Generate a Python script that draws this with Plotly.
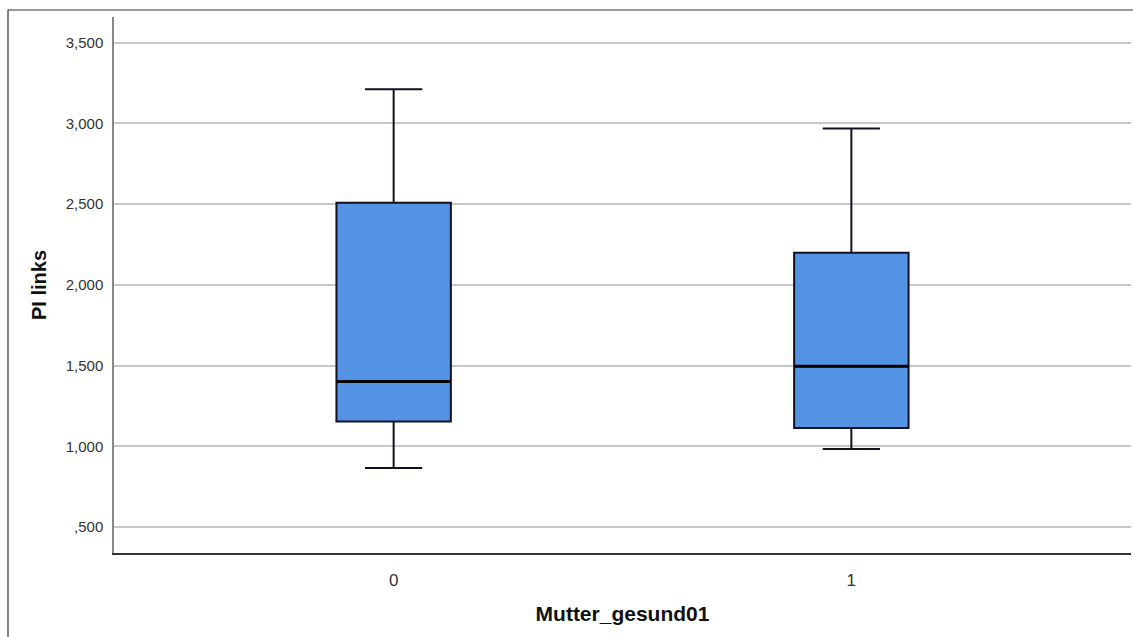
import plotly.graph_objects as go

groups = [0, 1]
group_labels = ["0", "1"]
lower_fence = [0.866, 0.983]
q1 = [1.153, 1.114]
median = [1.401, 1.496]
q3 = [2.508, 2.198]
upper_fence = [3.211, 2.969]

ytick_vals = [0.5, 1.0, 1.5, 2.0, 2.5, 3.0, 3.5]
ytick_text = [",500", "1,000", "1,500", "2,000", "2,500", "3,000", "3,500"]

box_w = 0.25
fill = "#5594E4"

fig = go.Figure()
for i, g in enumerate(groups):
    fig.add_trace(go.Box(
        x=[g], q1=[q1[i]], median=[median[i]], q3=[q3[i]],
        lowerfence=[lower_fence[i]], upperfence=[upper_fence[i]],
        width=box_w, whiskerwidth=0.5,
        fillcolor=fill, line=dict(color="#111122", width=2),
        boxpoints=False, showlegend=False, hoverinfo="skip",
    ))
    fig.add_trace(go.Scatter(
        x=[g - box_w / 2, g + box_w / 2], y=[median[i], median[i]],
        mode="lines", line=dict(color="#000000", width=3),
        showlegend=False, hoverinfo="skip",
    ))

fig.update_layout(
    width=1133, height=637,
    margin=dict(l=114, r=2, t=17, b=84),
    paper_bgcolor="white", plot_bgcolor="white",
    font=dict(family="Arial, Liberation Sans, sans-serif", color="#222"),
    xaxis=dict(
        range=[-0.611, 1.611], tickvals=groups, ticktext=group_labels,
        showgrid=False, zeroline=False, showline=True, linecolor="#333", linewidth=2,
        ticks="", ticklabelstandoff=11, tickfont=dict(size=17, color="#333"),
        title=dict(text="<b>Mutter_gesund01</b>", font=dict(size=21, color="#111"), standoff=17),
    ),
    yaxis=dict(
        range=[0.339, 3.659], tickvals=ytick_vals, ticktext=ytick_text,
        showgrid=True, gridcolor="#c8c8c8", gridwidth=1.5,
        zeroline=False, showline=True, linecolor="#888", linewidth=1.5,
        ticks="", ticklabelstandoff=6, tickfont=dict(size=15, color="#333"),
        title=dict(text="<b>PI links</b>", font=dict(size=20, color="#111"), standoff=14),
    ),
    shapes=[dict(
        type="rect", xref="paper", yref="paper",
        x0=(8 - 114) / 1017, x1=1.05, y0=-0.3, y1=1 + 7 / 536,
        line=dict(color="#333", width=1.2), fillcolor="rgba(0,0,0,0)", layer="below",
    )],
)

fig.write_html("out.html")
